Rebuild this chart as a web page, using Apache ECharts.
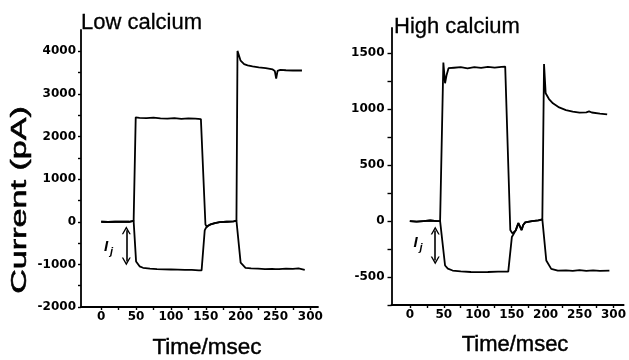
<!DOCTYPE html>
<html>
<head>
<meta charset="utf-8">
<script src="https://cdn.jsdelivr.net/npm/echarts@6/dist/echarts.min.js"></script>
<style>
  html, body { margin: 0; padding: 0; background: #fff; }
  #chart { width: 629px; height: 360px; }
</style>
</head>
<body>
<div id="chart"></div>
<script>
// ---- Data ----
// Low calcium panel
var lowUpT   = [0, 10, 20, 30, 40, 46.5, 49.5, 55, 65, 75, 85, 95, 105, 115, 125, 135, 143, 149.5, 151, 153, 157, 163, 170, 180, 190, 194, 195.5, 200, 205, 210, 217, 226, 236, 246, 249, 251, 253, 257, 265, 275, 288];
var lowUpV   = [0, -5, 0, 5, 0, 20, 2450, 2440, 2430, 2445, 2425, 2420, 2430, 2415, 2425, 2420, 2410, -60, -110, -100, -60, -30, -10, 0, 10, 25, 4010, 3780, 3700, 3670, 3645, 3625, 3605, 3575, 3540, 3360, 3540, 3565, 3555, 3550, 3550];
var lowDownT = [0, 10, 20, 30, 40, 46.5, 50, 55, 60, 70, 80, 90, 100, 110, 120, 130, 140, 144, 148.5, 150, 153, 157, 163, 170, 180, 190, 194, 196, 200, 207, 215, 225, 235, 245, 250, 252, 255, 265, 275, 283, 292];
var lowDownV = [0, -5, 0, 5, 0, 20, -930, -1045, -1080, -1100, -1110, -1115, -1120, -1125, -1130, -1130, -1140, -1140, -200, -150, -100, -60, -30, -10, 0, 10, 25, 30, -960, -1080, -1095, -1100, -1110, -1105, -1110, -1140, -1110, -1100, -1105, -1095, -1130];
// High calcium panel
var highUpT   = [0, 10, 20, 30, 40, 44.6, 49.4, 51.9, 54, 57, 65, 75, 85, 95, 105, 115, 125, 135, 140.5, 148, 151, 156, 159.9, 162, 164.7, 167, 170, 180, 190, 195.2, 197.7, 200.1, 205, 210.8, 220, 230, 240, 250, 260, 264, 268, 280, 290.7];
var highUpV   = [0, -5, 0, 5, 0, 0, 1416, 1231, 1300, 1366, 1370, 1375, 1365, 1375, 1368, 1378, 1370, 1378, 1380, -80, -110, -83, -18, -35, -80, -35, -12, 0, 6, 15, 1404, 1142, 1090, 1052, 1015, 992, 978, 968, 972, 980, 970, 960, 953];
var highDownT = [0, 10, 20, 30, 40, 44.6, 51.9, 56, 63, 75, 90, 100, 115, 130, 145, 150.3, 156, 159.9, 162, 164.7, 167, 170, 180, 189, 195.2, 201, 208.3, 218, 230, 240, 250, 260, 270, 280, 294];
var highDownV = [0, -5, 0, 5, 0, 0, -397, -425, -442, -450, -455, -457, -455, -452, -451, -143, -83, -18, -35, -80, -35, -12, 0, 6, 15, -352, -427, -442, -440, -445, -438, -446, -440, -445, -442];
// Ij arrows [time, from, to]
var lowArrow  = [36, -200, -930];
var highArrow = [37.4, -85, -352];

// ---- Tick labels ----
var xLabels      = [0, 50, 100, 150, 200, 250, 300];
var xTicks       = [0, 25, 50, 75, 100, 125, 150, 175, 200, 225, 250, 275, 300];
var lowYLabels   = [-2000, -1000, 0, 1000, 2000, 3000, 4000];
var lowYTicks    = [-2000, -1500, -1000, -500, 0, 500, 1000, 1500, 2000, 2500, 3000, 3500, 4000];
var highYLabels  = [-500, 0, 500, 1000, 1500];
var highYTicks   = [-750, -500, -250, 0, 250, 500, 750, 1000, 1250, 1500];

function zip(t, v) { return t.map(function (x, i) { return [x, v[i]]; }); }

var chevron = 'path://M0,10 L5,0 L10,10 L8.4,10 L5,3.4 L1.6,10 Z';

function xAxisCfg(gi, min, max) {
  return {
    type: 'value', gridIndex: gi, min: min, max: max,
    axisLine: { onZero: false, lineStyle: { color: '#000', width: 1.8 } },
    axisTick: { customValues: xTicks, length: 3, lineStyle: { color: '#000', width: 1.4 } },
    axisLabel: { customValues: xLabels, color: '#000', fontFamily: 'DejaVu Sans', fontWeight: 'bold', fontSize: 12, margin: 4,
                 formatter: function (v) { return String(v); } },
    splitLine: { show: false }
  };
}
function yAxisCfg(gi, min, max, labels, ticks, margin, tlen) {
  return {
    type: 'value', gridIndex: gi, min: min, max: max,
    axisLine: { onZero: false, lineStyle: { color: '#000', width: 1.8 } },
    axisTick: { customValues: ticks, length: tlen, lineStyle: { color: '#000', width: 1.4 } },
    axisLabel: { customValues: labels, color: '#000', fontFamily: 'DejaVu Sans', fontWeight: 'bold', fontSize: 12, margin: margin,
                 formatter: function (v) { return String(v); } },
    splitLine: { show: false }
  };
}
function trace(xi, t, v, arrow) {
  var s = {
    type: 'line', xAxisIndex: xi, yAxisIndex: xi, data: zip(t, v),
    showSymbol: false, symbol: 'none', smooth: false, silent: true,
    lineStyle: { color: '#000', width: 1.8 }, itemStyle: { color: '#000' }
  };
  if (arrow) {
    s.markLine = {
      silent: true, symbol: [chevron, chevron], symbolSize: [9, 8],
      label: { show: false },
      lineStyle: { color: '#000', width: 1.6, type: 'solid' },
      data: [[{ coord: [arrow[0], arrow[1]] }, { coord: [arrow[0], arrow[2]] }]]
    };
  }
  return s;
}

var chart = echarts.init(document.getElementById('chart'), null, { renderer: 'canvas' });
var font = '"Liberation Sans", Arial, sans-serif';
function txt(x, y, text, size, opts) {
  var st = { text: text, font: size + 'px ' + font, fill: '#000', textAlign: 'center', textVerticalAlign: 'middle' };
  var el = { type: 'text', x: x, y: y, style: st };
  if (opts) {
    if (opts.align) st.textAlign = opts.align;
    if (opts.stroke) { st.stroke = '#000'; st.lineWidth = opts.stroke; }
    if (opts.style) st.font = opts.style + ' ' + size + 'px ' + font;
    if (opts.rotation) el.rotation = opts.rotation;
    if (opts.scaleX) el.scaleX = opts.scaleX;
  }
  return el;
}
chart.setOption({
  animation: false,
  backgroundColor: '#fff',
  grid: [
    { left: 81, top: 30, width: 237, height: 277 },
    { left: 391.5, top: 28, width: 235.5, height: 277 }
  ],
  xAxis: [xAxisCfg(0, -29, 311), xAxisCfg(1, -27, 315)],
  yAxis: [
    yAxisCfg(0, -2000, 4500, lowYLabels, lowYTicks, 5, 3),
    yAxisCfg(1, -750, 1725, highYLabels, highYTicks, 7, 4)
  ],
  series: [
    trace(0, lowUpT, lowUpV, null),
    trace(0, lowDownT, lowDownV, lowArrow),
    trace(1, highUpT, highUpV, null),
    trace(1, highDownT, highDownV, highArrow)
  ],
  graphic: [
    txt(81, 22.5, 'Low calcium', 22, { align: 'left', stroke: 0.3 }),
    txt(394, 26.5, 'High calcium', 22, { align: 'left', stroke: 0.3 }),
    txt(207, 347.5, 'Time/msec', 22.5, { stroke: 0.45 }),
    txt(515, 344.5, 'Time/msec', 22, { stroke: 0.45 }),
    txt(20, 200, 'Current (pA)', 22, { stroke: 0.55, rotation: Math.PI / 2, scaleX: 1.55 }),
    txt(106, 247, 'I', 15, { style: 'italic bold' }),
    txt(111.5, 252, 'j', 11, { style: 'italic bold' }),
    txt(415.5, 243, 'I', 15, { style: 'italic bold' }),
    txt(421, 248, 'j', 11, { style: 'italic bold' })
  ]
});
</script>
</body>
</html>
